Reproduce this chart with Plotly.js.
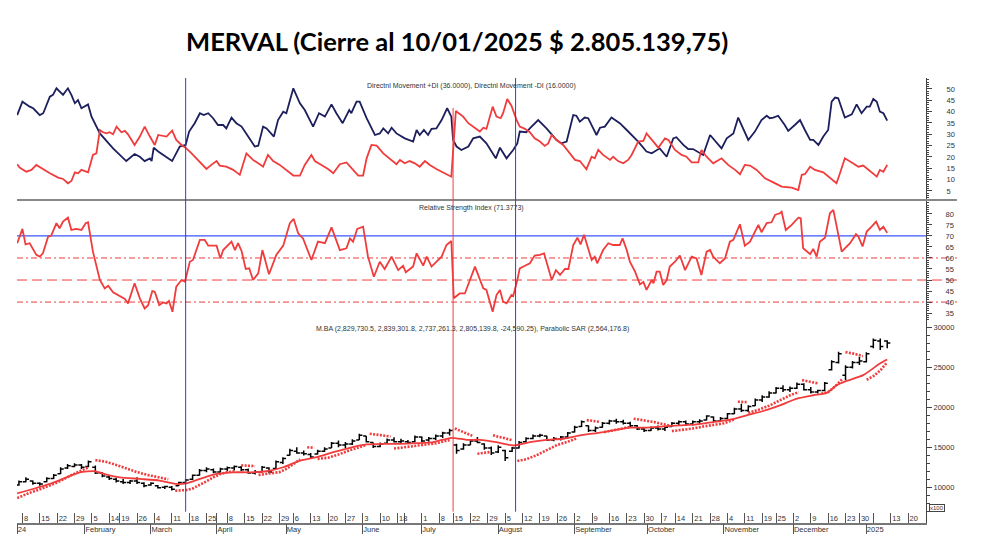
<!DOCTYPE html>
<html><head><meta charset="utf-8">
<script src="https://cdn.plot.ly/plotly-3.0.1.min.js"></script>
<style>html,body{margin:0;padding:0;background:#fff}#chart{width:981px;height:557px}</style>
</head><body><div id="chart"></div>
<script>
// ---- trading calendar (BYMA sessions) ----
const holidays = ['2024-01-01','2024-02-12','2024-02-13','2024-03-28','2024-03-29','2024-04-01','2024-04-02','2024-05-01','2024-06-17','2024-06-20','2024-06-21','2024-07-09','2024-10-11','2024-11-18','2024-12-25','2025-01-01'];
const calendar = [];
for (let t = Date.UTC(2024,0,2); t <= Date.UTC(2025,0,31); t += 86400000) {
  const d = new Date(t), wd = d.getUTCDay();
  if (wd === 0 || wd === 6) continue;
  const s = d.toISOString().slice(0,10);
  if (holidays.indexOf(s) >= 0) continue;
  calendar.push(s);
}
const day = s => calendar.indexOf(s);   // session number since 2 Jan 2024

// ---- axis ticks ----
const weekTickDates = ['2024-01-08','2024-01-15','2024-01-22','2024-01-29','2024-02-05','2024-02-14','2024-02-19','2024-02-26','2024-03-04','2024-03-11','2024-03-18','2024-03-25','2024-04-03','2024-04-08','2024-04-15','2024-04-22','2024-04-29','2024-05-06','2024-05-13','2024-05-20','2024-05-27','2024-06-03','2024-06-10','2024-06-18','2024-06-24','2024-07-01','2024-07-08','2024-07-15','2024-07-22','2024-07-29','2024-08-05','2024-08-12','2024-08-19','2024-08-26','2024-09-02','2024-09-09','2024-09-16','2024-09-23','2024-09-30','2024-10-07','2024-10-14','2024-10-21','2024-10-28','2024-11-04','2024-11-11','2024-11-19','2024-11-25','2024-12-02','2024-12-09','2024-12-16','2024-12-23','2024-12-30','2025-01-06','2025-01-13','2025-01-20'];
const weekTickText = ['8','15','22','29','5','14','19','26','4','11','18','25','','8','15','22','29','6','13','20','27','3','10','18','','1','8','15','22','29','5','12','19','26','2','9','16','23','30','7','14','21','28','4','11','19','25','2','9','16','23','30','','13','20'];
const monthTickDates = ['2024-02-01','2024-03-01','2024-04-03','2024-05-02','2024-06-03','2024-07-01','2024-08-01','2024-09-02','2024-10-01','2024-11-01','2024-12-02','2025-01-02'];
const monthTickText = ['February','March','April','May','June','July','August','September','October','November','December','2025'];
const diTicks = [5,10,15,20,25,30,35,40,45,50];
const rsiTicks = [35,40,45,50,55,60,65,70,75,80];
const priceTicks = [10000,15000,20000,25000,30000];
const rsiLevels = [70,60,50,40];
const markerDates = ['2024-03-15','2024-07-15','2024-08-08'];
const markerColors = ['#2b3cf0','#f04040','#2b3cf0'];

// ---- Directional Movement ----
const diPlusDays = [2.5,4.0,6.1,7.1,9.0,10.0,11.9,12.8,13.8,15.2,15.7,17.1,18.1,19.1,20.0,21.0,22.9,23.9,26.3,30.1,33.9,36.3,37.8,39.2,40.7,41.2,41.8,43.1,45.5,47.1,49.3,51.0,52.0,53.6,55.1,56.2,57.5,58.9,60.3,61.8,62.7,64.2,65.6,67.1,69.0,70.9,71.9,73.3,74.3,76.4,77.6,79.1,80.0,82.0,83.9,85.3,87.7,89.4,91.1,93.0,94.4,96.2,98.1,98.7,100.2,101.1,103.1,105.5,106.9,107.9,109.3,110.3,111.7,114.1,116.5,117.5,118.4,119.6,120.8,121.8,123.2,124.7,126.3,127.5,128.0,129.0,130.4,132.4,133.8,135.7,137.6,140.3,141.5,143.4,145.3,146.5,147.2,149.1,150.1,152.5,154.9,157.8,159.2,160.7,162.6,163.5,164.5,165.9,166.9,169.3,170.3,171.7,173.6,176.0,178.0,179.4,181.3,183.7,185.2,187.5,189.5,191.4,192.3,194.3,195.7,197.1,199.1,200.0,202.0,202.9,205.3,206.8,208.7,210.1,211.6,213.0,214.9,216.8,218.3,219.2,220.2,221.6,223.5,224.5,226.4,227.9,229.3,230.8,231.7,233.2,234.6,236.0,237.0,238.0,238.9,239.9,240.8,242.8,244.2,245.6,247.1,248.0,249.0,250.0,250.9,251.9,253.0];
const diPlus = [38.5,44.4,42.2,41.5,38.5,39.3,46.6,47.4,50.3,48.1,47.4,50.3,47.4,43.7,45.1,41.5,43.2,37.8,30.4,23.8,18.2,21.3,20.1,18.2,19.4,18.2,24.1,22.4,20.1,18.2,24.6,25.3,31.2,34.9,39.3,38.5,39.3,37.1,34.1,34.1,32.6,37.4,34.9,33.4,29.0,24.6,25.0,33.4,32.6,29.0,36.3,40.0,39.3,50.3,43.7,40.7,33.4,39.3,37.8,43.2,39.3,34.9,40.7,39.3,44.4,44.4,37.1,29.7,30.4,32.6,30.4,32.9,30.4,28.2,26.8,31.9,29.7,31.9,29.7,32.4,32.6,36.3,41.5,37.8,27.5,24.6,23.1,24.6,28.2,29.0,26.0,19.4,24.1,19.4,23.1,26.0,31.2,30.9,32.6,36.3,32.6,27.5,26.0,26.8,38.5,38.2,35.6,37.4,37.1,29.7,32.9,33.4,37.4,34.9,31.9,29.7,26.8,22.4,21.6,23.8,20.1,28.2,28.7,25.3,23.5,23.5,21.6,20.9,29.7,28.2,23.8,28.2,30.4,37.4,32.6,27.5,31.2,36.3,38.2,37.1,37.4,38.2,34.1,31.5,34.1,36.3,31.9,27.5,27.5,25.3,29.0,31.9,44.4,46.2,45.9,41.5,37.4,38.8,43.2,39.3,42.2,42.2,45.6,44.4,40.0,39.3,36.0];
const diMinusDays = [2.5,3.2,5.1,6.6,8.0,9.5,11.9,14.3,15.7,17.1,18.1,19.1,20.0,21.0,22.9,24.3,25.3,26.3,27.2,28.2,29.1,30.1,31.1,32.5,33.5,34.4,36.3,37.8,39.2,40.7,42.1,43.1,44.5,45.5,47.1,48.3,49.8,51.2,52.7,55.1,57.0,58.4,59.9,60.8,62.7,64.7,66.6,68.5,70.4,71.9,73.3,74.7,76.2,78.1,80.0,82.0,83.9,85.3,87.2,88.2,90.1,92.0,93.5,95.4,97.3,99.2,100.7,102.1,103.1,104.5,106.0,107.9,109.8,111.7,112.7,114.1,115.5,117.0,118.4,119.9,121.3,123.2,126.1,127.5,128.8,130.9,132.4,134.3,135.7,136.7,137.6,139.4,140.5,141.7,142.4,143.6,144.8,146.3,147.2,148.7,150.1,151.5,153.0,154.4,155.4,156.4,157.8,159.7,161.2,163.1,164.5,166.4,167.9,168.8,169.8,171.2,173.2,174.1,175.5,177.0,178.4,179.4,181.3,182.8,183.7,185.2,187.1,189.0,190.0,191.9,193.8,195.2,196.7,198.6,199.5,201.0,202.9,205.3,207.2,209.2,210.6,212.0,213.5,215.4,217.8,220.2,222.6,225.5,227.4,228.4,229.3,230.8,232.2,234.6,236.0,237.5,238.4,239.4,240.8,242.8,244.7,246.1,247.6,250.0,250.9,251.9,253.0];
const diMinus = [16.8,15.3,13.5,14.3,16.5,15.0,12.8,10.9,10.3,8.4,9.4,13.2,12.8,14.3,13.2,20.9,21.6,31.9,30.9,30.4,30.9,30.0,33.4,30.9,31.5,30.0,25.3,29.0,33.4,29.0,25.3,29.7,29.3,29.0,31.6,27.5,25.3,23.8,21.6,17.6,14.7,16.5,18.2,16.2,15.7,14.3,12.1,21.6,18.7,17.2,15.7,20.9,18.2,16.5,14.3,11.8,11.8,16.5,20.9,18.2,16.5,14.7,12.8,16.8,17.6,14.3,11.8,11.8,19.4,25.3,25.0,21.6,19.4,16.8,18.7,17.2,18.2,17.2,15.7,18.2,16.5,14.7,12.4,11.3,40.3,37.8,34.9,32.6,31.2,32.9,32.4,42.2,37.8,37.1,39.3,45.6,42.6,36.3,33.4,32.4,30.9,28.2,26.8,24.9,26.0,29.7,27.5,25.3,22.4,18.7,18.2,14.6,20.1,19.4,23.1,20.9,18.7,20.1,18.2,17.2,18.7,20.9,26.8,27.1,30.4,27.5,24.1,28.2,27.5,23.1,20.9,20.1,17.6,17.6,23.1,20.1,17.2,19.4,16.5,14.3,12.4,16.5,16.2,14.3,10.6,8.8,6.9,6.5,5.4,12.1,12.4,15.7,14.3,13.2,11.3,9.4,8.4,12.8,19.4,17.6,15.7,16.2,14.3,11.3,14.3,13.5,16.5];

// ---- RSI ----
const rsiDays = [2.5,4.0,4.9,6.1,8.0,9.0,9.9,11.4,12.3,13.8,14.7,15.7,17.1,18.1,19.5,21.0,22.2,22.9,24.3,26.3,27.7,28.7,30.1,31.5,33.5,34.4,36.3,37.8,39.2,40.2,41.4,42.1,43.4,44.5,45.5,46.2,47.2,48.3,49.8,50.8,52.2,53.1,55.1,56.5,57.5,59.9,61.0,61.8,64.2,65.2,66.1,67.1,68.3,69.3,70.4,71.9,73.1,75.0,77.1,79.1,81.0,82.1,83.4,84.8,87.2,89.1,91.1,93.0,95.4,97.3,98.3,99.2,100.4,102.1,103.5,105.2,106.9,108.3,110.3,112.2,113.6,114.4,116.5,117.5,119.4,120.4,121.8,124.7,126.1,127.5,128.2,129.9,131.4,134.3,135.7,136.7,137.6,139.4,140.5,141.5,142.4,143.4,144.8,145.3,146.5,147.2,148.7,150.1,151.5,153.0,154.2,156.4,157.6,158.8,160.2,161.2,162.6,163.8,164.7,165.7,167.9,168.8,169.5,171.2,172.7,174.1,176.0,176.8,178.0,178.9,180.4,181.8,182.8,183.7,185.2,185.7,186.6,187.5,188.5,189.5,190.4,191.9,193.3,194.8,196.7,198.1,199.5,201.0,202.0,202.9,204.8,206.3,207.7,208.7,210.6,212.0,213.5,215.9,216.8,218.3,219.7,220.7,222.1,222.6,223.8,225.5,227.4,228.1,228.8,230.8,231.7,232.7,233.6,235.1,236.5,237.5,239.9,240.8,242.3,244.0,244.7,245.9,247.1,248.5,249.8,250.9,251.9,253.0];
const rsi = [66.7,73.2,66.2,66.7,61.4,60.6,62.1,69.7,70.2,75.8,73.5,76.5,78.3,72.7,73.2,72.7,75.8,76.2,62.9,50.0,46.2,47.4,44.4,43.2,41.4,39.4,48.5,41.7,37.1,38.6,45.0,44.7,38.6,39.8,39.4,40.5,35.6,47.0,50.0,49.2,58.3,59.1,68.2,68.2,65.6,65.6,59.8,63.6,67.4,63.6,66.7,63.2,55.0,55.3,50.0,53.0,63.6,52.6,61.4,65.6,75.8,77.7,71.2,68.9,59.1,67.4,66.7,73.9,63.6,64.4,68.9,67.4,73.2,74.2,60.6,51.5,58.3,55.0,60.6,54.5,56.5,53.5,56.1,62.1,56.5,60.6,56.1,60.6,65.9,67.7,41.7,43.9,43.9,56.1,50.0,46.2,45.5,35.6,43.2,45.5,40.2,39.4,43.2,42.7,50.0,55.3,56.5,57.6,61.1,61.4,62.1,50.0,54.5,52.3,55.0,55.0,65.9,69.2,66.2,70.5,59.1,60.6,57.6,63.6,66.7,65.9,65.9,68.9,63.6,58.3,53.8,48.0,49.1,45.5,50.0,48.5,53.8,53.8,47.7,50.0,56.1,58.3,61.1,54.5,60.6,59.8,52.3,62.9,63.6,60.6,57.6,59.8,67.4,68.2,75.3,65.6,67.4,75.0,71.7,75.8,76.2,79.5,80.3,81.0,72.7,75.0,78.3,78.0,64.4,61.7,64.1,60.6,67.4,69.2,80.3,81.8,62.9,64.4,66.7,70.8,69.7,65.2,72.0,74.2,76.5,72.7,74.2,71.4];

// ---- Price bars (every second session from session 3), index points ----
const barOpen  = [10300,10700,10800,10500,10700,11100,11700,12400,12600,12800,12600,12500,11800,11300,11000,10700,10600,10800,10500,10300,10200,10000,10000,10200,10600,11000,11500,12100,12200,11900,12300,12400,12500,12200,11800,11900,12400,12350,13100,14000,14500,14300,14100,14150,14500,14900,15500,15300,15400,15900,16400,15600,15100,15500,15900,15700,15700,15700,16300,15900,16100,16400,16800,15300,14800,15300,15800,15400,14900,14400,14600,14500,14900,15700,16100,16400,16400,15900,16000,16300,16900,17600,17700,17100,17500,18000,18300,18200,18000,17700,17300,17100,17400,17300,17600,18000,18200,17900,18200,18400,18800,18300,18600,19200,19800,19600,20200,20900,21300,21800,22400,22200,22400,22900,22200,21900,22100,24700,25600,24000,25000,25600,25700,27600,28300,28297];
const barHigh  = [10840,11255,10837,10628,11255,11674,12510,12929,13010,12929,13347,12720,11883,11465,11200,11046,10920,11255,10628,10628,10300,10210,10150,10700,11046,11590,12302,12510,12350,12450,12600,12720,12650,12350,12150,12650,12510,13347,13766,14812,15021,14603,14300,14700,15000,15650,15850,15650,16000,16695,16400,15600,15600,16100,16250,16067,15900,16486,16350,16300,16600,16950,17322,15439,15500,15950,16300,15500,15100,15250,14700,15050,15800,16250,16600,16700,16450,16276,16400,16900,17700,18368,17741,17600,18159,18452,18577,18452,18200,17800,17550,17615,17741,17615,18159,18368,18368,18368,18500,18996,18850,18787,19300,19958,20460,20251,21088,21506,22000,22552,22761,22600,23100,23000,22552,22200,23180,25900,26946,25272,25800,26318,26900,28600,28619,28393];
const barLow   = [10210,10628,10335,10210,10628,11046,11674,12302,12510,12302,12510,11674,11255,10920,10600,10419,10419,10419,10000,10210,9850,9791,9600,10150,10419,10920,11465,11883,11750,11850,12000,12092,12050,11700,11600,11850,11758,12302,12929,13975,14184,13975,13600,14100,14400,14900,15000,14900,15300,15900,15600,14900,15000,15450,15600,15439,15450,15649,15650,15700,15900,16150,16486,14184,14700,15300,15500,14700,14050,14300,13300,14400,14850,15600,16000,16250,15800,15774,15850,16100,16850,17532,16904,16904,17450,17866,17950,17866,17550,17150,16904,17030,17113,17030,17532,17741,17741,17741,17900,18368,18159,18159,18550,19150,19414,19414,20151,20669,21200,21716,21925,21925,22300,22100,21716,21716,22000,24600,25481,23400,24853,25300,25600,27400,27155,27373];
const barClose = [10700,11000,10500,10400,11100,11500,12300,12700,12800,12500,13200,11800,11400,11100,10800,10600,10800,10600,10200,10500,9950,10100,9750,10600,10900,11500,12100,12300,11900,12300,12450,12600,12200,11800,11900,12500,11900,13200,13600,14600,14300,14200,13800,14500,14800,15500,15300,15400,15800,16500,15700,15100,15400,15900,15700,15800,15600,16300,15800,16100,16400,16800,17100,14600,15300,15800,15600,14900,14300,15000,13700,14900,15600,16100,16400,16500,15900,16100,16300,16800,17500,18200,17100,17400,18000,18300,18200,18000,17700,17300,17100,17400,17300,17500,18000,18200,17900,18200,18300,18900,18300,18600,19200,19800,19600,20100,20900,21300,21800,22400,22200,22400,22900,22200,21900,22100,23000,25700,26700,25000,25600,25800,26700,28400,27600,28051];
const barDays = barClose.map((_, i) => 3 + 2 * i);

// ---- Moving average ----
const maDays = [2.5,7.1,11.9,16.7,20.5,24.8,28.2,32,37.8,43.5,48.3,51.2,55.1,59.9,64.7,69.5,74.3,79.1,83.9,88.7,93.5,98.3,103.1,107.9,112.7,117.5,122.3,127.5,131.9,135.7,140.5,145.3,150.1,154.9,159.7,164.5,169.3,174.1,178.9,183.7,188.5,193.3,198.1,202.9,207.7,212.5,217.3,222.1,227,231.7,235.6,238.4,241.3,246.1,250.9,253];
const ma = [9250,9790,10420,11250,11880,12010,11590,11250,11050,10840,10420,10500,11050,11670,11880,11880,12010,12510,13350,13770,14390,14940,15360,15440,15440,15520,15650,16190,15940,15940,15650,15230,15650,15940,16070,16490,16780,17110,17450,17450,17610,17740,17870,18160,18450,19000,19540,20250,21090,21510,21800,22760,23310,24020,25480,25980];

// ---- Parabolic SAR (null = reversal) ----
const sarDays = [2.5,6,10,14,18,21,23,null,25,28,31,34,37,40,43,46,null,48,51,53,55,57,59,61,63,65,null,67,69,71,null,72,75,78,80,82,84,null,86,88,null,89,92,95,98,101,103,null,104,107,110,null,111,115,119,123,127,null,128.5,131,133.5,null,135,137,138.5,null,139.5,142,145,null,146.5,149,152,155,158,161,163.5,null,166.5,168,170,null,171.5,174,177,179,null,180,183,186,188.5,190.5,null,191,194,197,200,203,206,209,null,210,212.5,null,213,216,219,222,225,227.5,null,228.5,231,233,null,234,236,238,240,null,241,243.5,246,null,247.1,249,251,253];
const sar = [8660,9300,9900,10600,11500,12100,12500,null,13400,13200,12800,12300,11900,11550,11250,11000,null,9580,9650,9850,10250,10750,11250,11650,11900,12000,null,12750,12700,12650,null,11550,11700,11900,12300,12900,13500,null,15000,14950,null,13560,13700,14100,14600,15000,15300,null,16700,16550,16350,null,14850,15050,15250,15500,15900,null,17350,16900,16450,null,14200,14300,14400,null,16500,16250,15900,null,13300,13500,14000,14700,15300,15700,16100,null,18400,18300,18200,null,16900,17100,17400,17550,null,18577,18400,18150,17900,17700,null,17030,17150,17350,17600,17800,18000,18500,null,20700,20650,null,19300,19700,20200,20900,21500,21900,null,23400,23200,23000,null,21700,21900,22600,23500,null,26900,26700,26400,null,23450,23900,24600,25640];

const xRange = [2.44, 264.17];
const RED = '#f03c3c', NAVY = '#1c1f5c';
const tickFont = {family: 'Liberation Sans, Arial, sans-serif', size: 7.5, color: '#333'};
const noHover = {hoverinfo: 'skip'};

const traces = [
  Object.assign({type:'scatter', mode:'lines', x: diPlusDays, y: diPlus, xaxis:'x', yaxis:'y3', line:{color:NAVY, width:1.8}}, noHover),
  Object.assign({type:'scatter', mode:'lines', x: diMinusDays, y: diMinus, xaxis:'x', yaxis:'y3', line:{color:RED, width:1.8}}, noHover),
  Object.assign({type:'scatter', mode:'lines', x: rsiDays, y: rsi, xaxis:'x', yaxis:'y2', line:{color:RED, width:1.8}}, noHover),
  Object.assign({type:'scatter', mode:'lines', x: maDays, y: ma, xaxis:'x', yaxis:'y', line:{color:RED, width:1.8, shape:'spline', smoothing:0.6}}, noHover),
  Object.assign({type:'scatter', mode:'lines', x: sarDays, y: sar, xaxis:'x', yaxis:'y', connectgaps:false, line:{color:RED, width:2.6, dash:'2px,1.4px'}}, noHover),
  {type:'ohlc', x: barDays, open: barOpen, high: barHigh, low: barLow, close: barClose, xaxis:'x', yaxis:'y', tickwidth:0.45,
   increasing:{line:{color:'#000', width:1.5}}, decreasing:{line:{color:'#000', width:1.5}}, hoverinfo:'skip'},
  Object.assign({type:'scatter', mode:'lines', x: monthTickDates.map(day), y: monthTickDates.map(() => null), xaxis:'x2', yaxis:'y', showlegend:false}, noHover)
];

const yCommon = {side:'right', anchor:'x', showgrid:false, zeroline:false, showline:true, linecolor:'#444', linewidth:1,
  ticks:'outside', ticklen:5, tickcolor:'#444', tickfont: tickFont, fixedrange:true};

const shapes = [];
shapes.push({type:'line', xref:'paper', yref:'paper', x0:0, x1:1.034, y0:0.7258, y1:0.7258, line:{color:'#888', width:2}});
rsiLevels.forEach(v => {
  const isOb = v === 70;
  shapes.push({type:'line', xref:'paper', yref:'y2', x0:0, x1: isOb ? 1 : 1.034, y0:v, y1:v, layer:'below',
    line:{color: isOb ? '#3b55ff' : RED, width: isOb ? 1.3 : 1, dash: isOb ? 'solid' : (v === 50 ? '10px,5px' : '6px,3px,2px,3px')}});
});
markerDates.forEach((d, i) => {
  shapes.push({type:'line', xref:'x', yref:'paper', x0: day(d), x1: day(d), y0:0.0254, y1: i === 1 ? 0.9326 : 1,
    line:{color: markerColors[i], width:1}});
});

const annFont = {family:'Liberation Sans, Arial, sans-serif', size:7, color:'#333'};
const annotations = [
  {xref:'paper', yref:'paper', x:0.5, y:0.9827, text:'Directnl Movement +DI (36.0000), Directnl Movement -DI (16.0000)', showarrow:false, font:annFont, xanchor:'center', yanchor:'middle'},
  {xref:'paper', yref:'paper', x:0.5, y:0.7085, text:'Relative Strength Index (71.3773)', showarrow:false, font:annFont, xanchor:'center', yanchor:'middle'},
  {xref:'paper', yref:'paper', x:0.501, y:0.4353, text:'M.BA (2,829,730.5, 2,839,301.8, 2,737,261.3, 2,805,139.8, -24,590.25), Parabolic SAR (2,564,176.8)', showarrow:false, font:annFont, xanchor:'center', yanchor:'middle'},
  {xref:'paper', yref:'paper', x:1.003, y:0.0326, text:'x100', showarrow:false, font:{family:'Liberation Sans, Arial, sans-serif', size:6, color:'#333'}, xanchor:'left', yanchor:'middle', bordercolor:'#444', borderwidth:1, borderpad:0}
];

const layout = {
  width: 981, height: 557,
  margin: {l:17, r:55, t:78, b:34, pad:0},
  paper_bgcolor:'#fff', plot_bgcolor:'#fff', showlegend:false,
  title: {text:'<b>MERVAL (Cierre al 10/01/2025 $ 2.805.139,75)</b>', xref:'container', yref:'container', x:0.466, xanchor:'center', y:0.925, yanchor:'middle',
    font:{family:'Lato, Carlito, sans-serif', size:25.5, color:'#000'}},
  xaxis: {range: xRange, anchor:'y', showgrid:false, zeroline:false, showline:true, linecolor:'#777', linewidth:2,
    ticks:'inside', ticklen:10, tickwidth:1, tickcolor:'#555', tickvals: weekTickDates.map(day), ticktext: weekTickText, tickangle:0,
    ticklabelposition:'inside right', ticklabelstandoff:-4, tickfont: tickFont, rangeslider:{visible:false}, fixedrange:true},
  xaxis2: {range: xRange, overlaying:'x', anchor:'y', side:'bottom', showgrid:false, zeroline:false, showline:false,
    ticks:'outside', ticklen:10, tickwidth:1, tickcolor:'#555', tickvals: [xRange[0] + 0.1].concat(monthTickDates.map(day)), ticktext: ['24'].concat(monthTickText), tickangle:0,
    ticklabelposition:'outside right', ticklabelstandoff:-1, tickfont: tickFont, fixedrange:true},
  yaxis: Object.assign({}, yCommon, {domain:[0, 0.4539], range:[5540, 30790], tickvals: priceTicks, ticktext: priceTicks.map(String), ticklabelstandoff:0,
    minor:{dtick:1000, ticks:'outside', ticklen:3, tickcolor:'#444'}}),
  yaxis2: Object.assign({}, yCommon, {domain:[0.4539, 0.7258], range:[31.4, 86.3], tickvals: rsiTicks, ticktext: rsiTicks.map(String), ticklabelstandoff:12,
    minor:{dtick:1, ticks:'outside', ticklen:2, tickcolor:'#444'}}),
  yaxis3: Object.assign({}, yCommon, {domain:[0.7258, 1], range:[1.0, 54.85], tickvals: diTicks, ticktext: diTicks.map(String), ticklabelstandoff:13,
    minor:{dtick:1, ticks:'outside', ticklen:2, tickcolor:'#444'}}),
  shapes: shapes,
  annotations: annotations
};

Plotly.newPlot('chart', traces, layout, {staticPlot:true, displayModeBar:false});
</script>
</body></html>
